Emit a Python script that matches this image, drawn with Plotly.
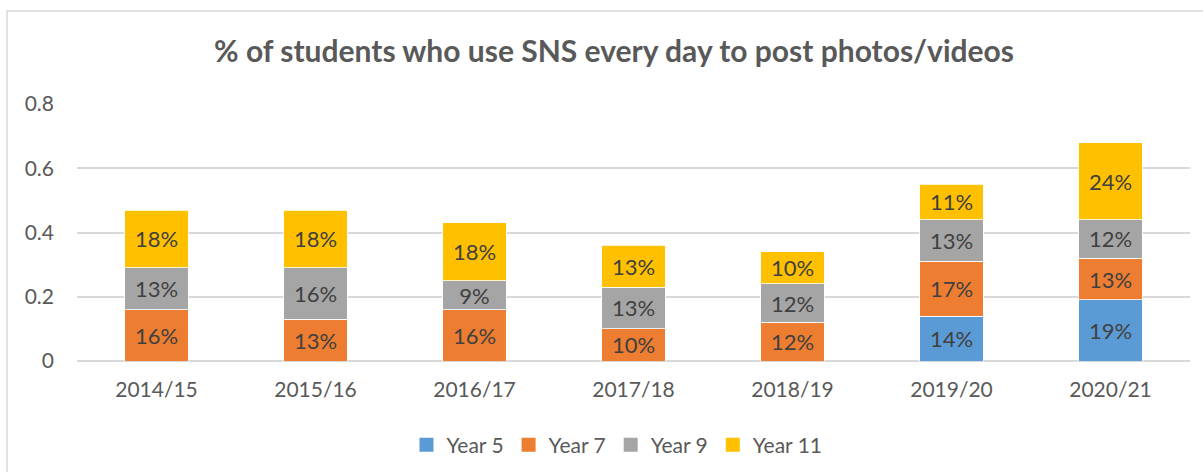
import plotly.graph_objects as go

categories = ["2014/15", "2015/16", "2016/17", "2017/18", "2018/19", "2019/20", "2020/21"]
year5 = [0, 0, 0, 0, 0, 0.14, 0.19]
year7 = [0.16, 0.13, 0.16, 0.10, 0.12, 0.17, 0.13]
year9 = [0.13, 0.16, 0.09, 0.13, 0.12, 0.13, 0.12]
year11 = [0.18, 0.18, 0.18, 0.13, 0.10, 0.11, 0.24]
y_ticks = [0, 0.2, 0.4, 0.6, 0.8]
y_tick_labels = ["0", "0.2", "0.4", "0.6", "0.8"]

series = [
    ("Year 5", year5, "#5B9BD5"),
    ("Year 7", year7, "#ED7D31"),
    ("Year 9", year9, "#A5A5A5"),
    ("Year 11", year11, "#FFC000"),
]

FONT = "Lato"
fig = go.Figure()
for name, vals, color in series:
    fig.add_trace(go.Bar(
        name=name, x=categories, y=vals,
        marker=dict(color=color, line=dict(color="white", width=0.8)),
        text=[f"{v:.0%}" if v else "" for v in vals],
        textposition="inside", insidetextanchor="middle",
        textfont=dict(family=FONT, size=22, color="#404040"),
        constraintext="none",
        hoverinfo="skip",
        showlegend=False,
    ))
# legend entries with square swatches
for name, vals, color in series:
    fig.add_trace(go.Scatter(
        name=name, x=[None], y=[None], mode="markers",
        marker=dict(symbol="square", size=14, color=color),
        showlegend=True, hoverinfo="skip",
    ))

L, R, T, B = 77, 13, 104, 111
W, H = 1203, 472
pw, ph = W - L - R, H - T - B

def px_x(x):
    return (x - L) / pw

def px_y(y):
    return 1 - (y - T) / ph

fig.update_layout(
    barmode="stack",
    bargap=0.6,
    width=W, height=H,
    margin=dict(l=L, r=R, t=T, b=B, pad=0, autoexpand=False),
    paper_bgcolor="white", plot_bgcolor="white",
    font=dict(family=FONT, color="#595959"),
    title=dict(
        text="<b>% of students who use SNS every day to post photos/videos</b>",
        font=dict(family=FONT, size=30, color="#595959"),
        x=px_x(614), xref="paper", xanchor="center",
        y=1 - 51 / H, yref="container", yanchor="middle",
    ),
    xaxis=dict(
        showgrid=False, showline=False, zeroline=False, ticks="",
        tickfont=dict(family=FONT, size=21, color="#595959"),
        ticklabelstandoff=14,
    ),
    yaxis=dict(
        range=[0, 0.8], tickvals=y_ticks, ticktext=y_tick_labels,
        showgrid=True, gridcolor="#D9D9D9", gridwidth=1.5,
        zeroline=True, zerolinecolor="#D9D9D9", zerolinewidth=1.5,
        showline=False, ticks="",
        tickfont=dict(family=FONT, size=21, color="#595959"),
        ticklabelstandoff=22,
    ),
    legend=dict(
        orientation="h", x=px_x(617), xanchor="center",
        y=px_y(445), yanchor="middle",
        font=dict(family=FONT, size=21, color="#595959"),
        itemsizing="trace", traceorder="normal",
        itemwidth=30,
    ),
    shapes=[dict(
        type="rect", xref="paper", yref="paper",
        x0=px_x(7), x1=px_x(1215), y0=px_y(490), y1=px_y(11),
        line=dict(color="#D9D9D9", width=1.5), fillcolor="rgba(0,0,0,0)",
        layer="below",
    )],
    showlegend=True,
)

fig.write_html("out.html", config={"displayModeBar": False},
               post_script="document.body.style.margin='0';")
